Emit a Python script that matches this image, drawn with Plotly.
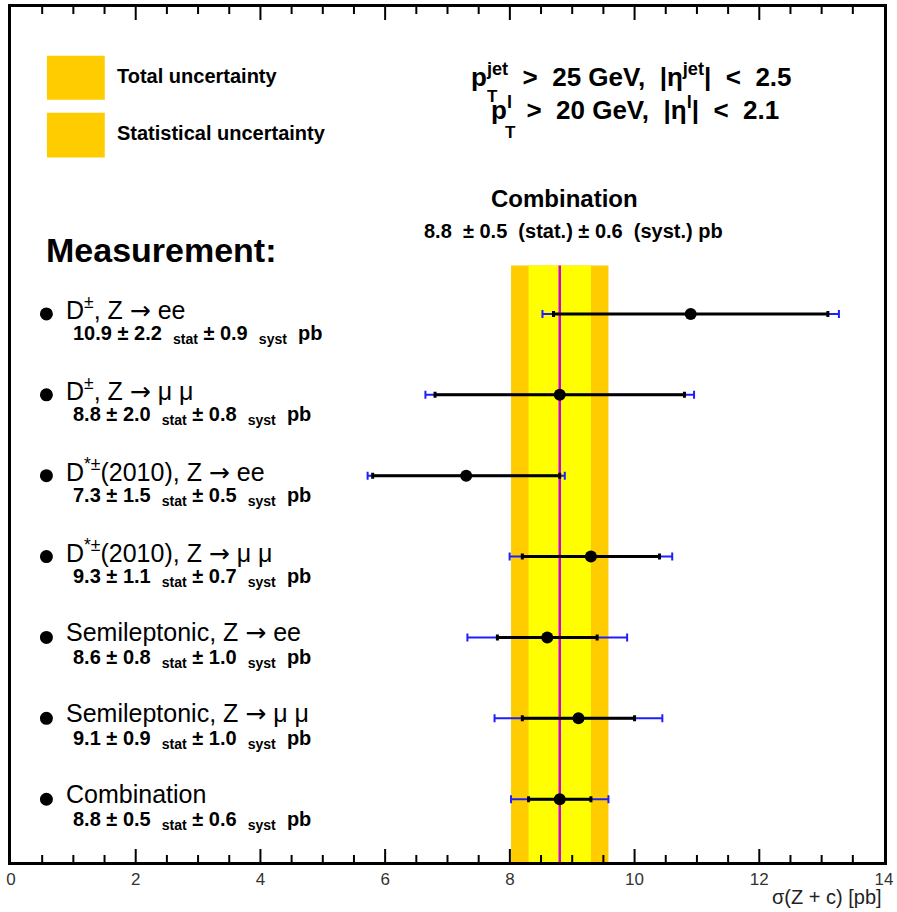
import math
import plotly.graph_objects as go

# ---- measurements: sigma(Z + c) in pb ----
channels = [
    "D<sup>±</sup>, Z → ee",
    "D<sup>±</sup>, Z → μ μ",
    "D<sup>*±</sup>(2010), Z → ee",
    "D<sup>*±</sup>(2010), Z → μ μ",
    "Semileptonic, Z → ee",
    "Semileptonic, Z → μ μ",
    "Combination",
]
values = [10.9, 8.8, 7.3, 9.3, 8.6, 9.1, 8.8]
stat = [2.2, 2.0, 1.5, 1.1, 0.8, 0.9, 0.5]
syst = [0.9, 0.8, 0.5, 0.7, 1.0, 1.0, 0.6]
x_range = [0, 14]
x_ticks = [0, 2, 4, 6, 8, 10, 12, 14]
x_minor_step = 0.5

total = [math.hypot(a, b) for a, b in zip(stat, syst)]
idx = list(range(len(channels)))

# combined result (last entry)
comb_val, comb_stat, comb_syst, comb_tot = values[-1], stat[-1], syst[-1], total[-1]

W, H = 897, 912
ML, MR, MT, MB = 11, 11, 4, 50
PW, PH = W - ML - MR, H - MT - MB


def xp(px):
    return (px - ML) / PW


def yp(py):
    return 1 - (py - MT) / PH


# vertical axis in "row" units: row 0 sits at 312 px, rows 81.17 px apart
ROW = 81.17
Y_TOP = -(312 - MT) / ROW
Y_BOT = Y_TOP + PH / ROW
BAND_TOP = -0.6

FONT = "Liberation Sans, Arial, Helvetica, sans-serif"
ORANGE = "#FFCC00"
YELLOW = "#FFFF00"
MAGENTA = "#CC00DD"
BLUE = "#1E1EFF"
SP = "&nbsp;"
ARROW = f'{SP}<span style="font-family:DejaVu Sans">→</span>{SP}'

fig = go.Figure()

# total (stat + syst) error bars
fig.add_trace(go.Scatter(
    x=values, y=idx, mode="markers",
    marker=dict(size=1, color="rgba(0,0,0,0)"),
    error_x=dict(type="data", array=total, color=BLUE, thickness=2, width=4),
    hoverinfo="skip", showlegend=False,
))
# statistical error bars with central values
fig.add_trace(go.Scatter(
    x=values, y=idx, mode="markers",
    marker=dict(size=12, color="black"),
    error_x=dict(type="data", array=stat, color="black", thickness=3, width=3),
    showlegend=False,
))

shapes = [
    # combined total / statistical uncertainty bands
    dict(type="rect", xref="x", yref="y", x0=comb_val - comb_tot, x1=comb_val + comb_tot,
         y0=BAND_TOP, y1=Y_BOT, fillcolor=ORANGE, line=dict(width=0), layer="below"),
    dict(type="rect", xref="x", yref="y", x0=comb_val - comb_stat, x1=comb_val + comb_stat,
         y0=BAND_TOP, y1=Y_BOT, fillcolor=YELLOW, line=dict(width=0), layer="below"),
    dict(type="line", xref="x", yref="y", x0=comb_val, x1=comb_val,
         y0=BAND_TOP, y1=Y_BOT, line=dict(color=MAGENTA, width=2.5), layer="below"),
    # legend swatches
    dict(type="rect", xref="paper", yref="paper", x0=xp(47), x1=xp(105), y0=yp(97), y1=yp(53),
         fillcolor=ORANGE, line=dict(width=0)),
    dict(type="rect", xref="paper", yref="paper", x0=xp(47), x1=xp(105), y0=yp(155), y1=yp(110),
         fillcolor=ORANGE, line=dict(width=0)),
]

# tick marks pointing into the frame from the bottom and top edges
n_minor = int(round((x_range[1] - x_range[0]) / x_minor_step))
minor_ticks = [x_range[0] + k * x_minor_step for k in range(1, n_minor)]
minor_ticks = [t for t in minor_ticks if t not in x_ticks]
for ticks, length, width in ((x_ticks[1:-1], 13, 2), (minor_ticks, 7, 2)):
    for t in ticks:
        for edge, sign in ((0, 1), (1, -1)):
            shapes.append(dict(type="line", xref="x", yref="paper", ysizemode="pixel",
                               yanchor=edge, x0=t, x1=t, y0=0, y1=sign * length,
                               line=dict(color="black", width=width)))

annotations = []


def text(x, y, s, size, bold=False, xanchor="left", yanchor="middle", color="black"):
    annotations.append(dict(
        xref="paper", yref="paper", x=xp(x), y=yp(y), text=(f"<b>{s}</b>" if bold else s),
        showarrow=False, xanchor=xanchor, yanchor=yanchor,
        font=dict(family=FONT, size=size, color=color),
    ))


text(115, 73, "Total uncertainty", 20, bold=True)
text(115, 130, "Statistical uncertainty", 20, bold=True)

text(470, 73, f"p<sup>jet</sup>{SP} >{SP} 25 GeV,{SP} |η<sup>jet</sup>|{SP} <{SP} 2.5", 26, bold=True)
text(494, 94, "T", 17, bold=True, xanchor="center")
text(490, 106, f"p<sup>l</sup>{SP} >{SP} 20 GeV,{SP} |η<sup>l</sup>|{SP} <{SP} 2.1", 26, bold=True)
text(512, 130, "T", 17, bold=True, xanchor="center")

text(566, 196, "Combination", 24, bold=True, xanchor="center")
text(575, 229, f"{comb_val}{SP} ± {comb_stat}{SP} (stat.){SP}± {comb_syst}{SP} (syst.){SP}pb", 20,
     bold=True, xanchor="center")

text(44, 248, "Measurement:", 34, bold=True)

for i, name in enumerate(channels):
    shapes.append(dict(type="circle", xref="paper", yref="y", xsizemode="pixel", ysizemode="pixel",
                       xanchor=xp(46.5), yanchor=i, x0=-6.5, x1=6.5, y0=-6.5, y1=6.5,
                       fillcolor="black", line=dict(width=0)))
    annotations.append(dict(
        xref="paper", yref="y", x=xp(64), y=i, yshift=5, text=name.replace(" → ", ARROW),
        showarrow=False, xanchor="left", yanchor="middle",
        font=dict(family=FONT, size=25, color="black"),
    ))
    label = (f"<b>{values[i]} ± {stat[i]}{SP} <sub>stat</sub> ± {syst[i]}{SP} "
             f"<sub>syst</sub>{SP} pb</b>")
    annotations.append(dict(
        xref="paper", yref="y", x=xp(71), y=i, yshift=-21, text=label, showarrow=False,
        xanchor="left", yanchor="middle", font=dict(family=FONT, size=20, color="black"),
    ))

# axis title
text(886, 897, "σ(Z + c) [pb]", 20, xanchor="right", color="#222")

fig.update_layout(
    width=W, height=H,
    margin=dict(l=ML, r=MR, t=MT, b=MB),
    paper_bgcolor="white", plot_bgcolor="white",
    shapes=shapes, annotations=annotations,
    xaxis=dict(
        range=x_range, mirror=True, showline=True, linewidth=3, linecolor="black",
        tickmode="array", tickvals=x_ticks, ticks="",
        showgrid=False, zeroline=False,
        tickfont=dict(family=FONT, size=17, color="#333"),
    ),
    yaxis=dict(
        range=[Y_BOT, Y_TOP], showline=True, mirror=True, linewidth=3, linecolor="black",
        showticklabels=False, ticks="", showgrid=False, zeroline=False,
    ),
    showlegend=False,
)

fig.write_html("out.html")
